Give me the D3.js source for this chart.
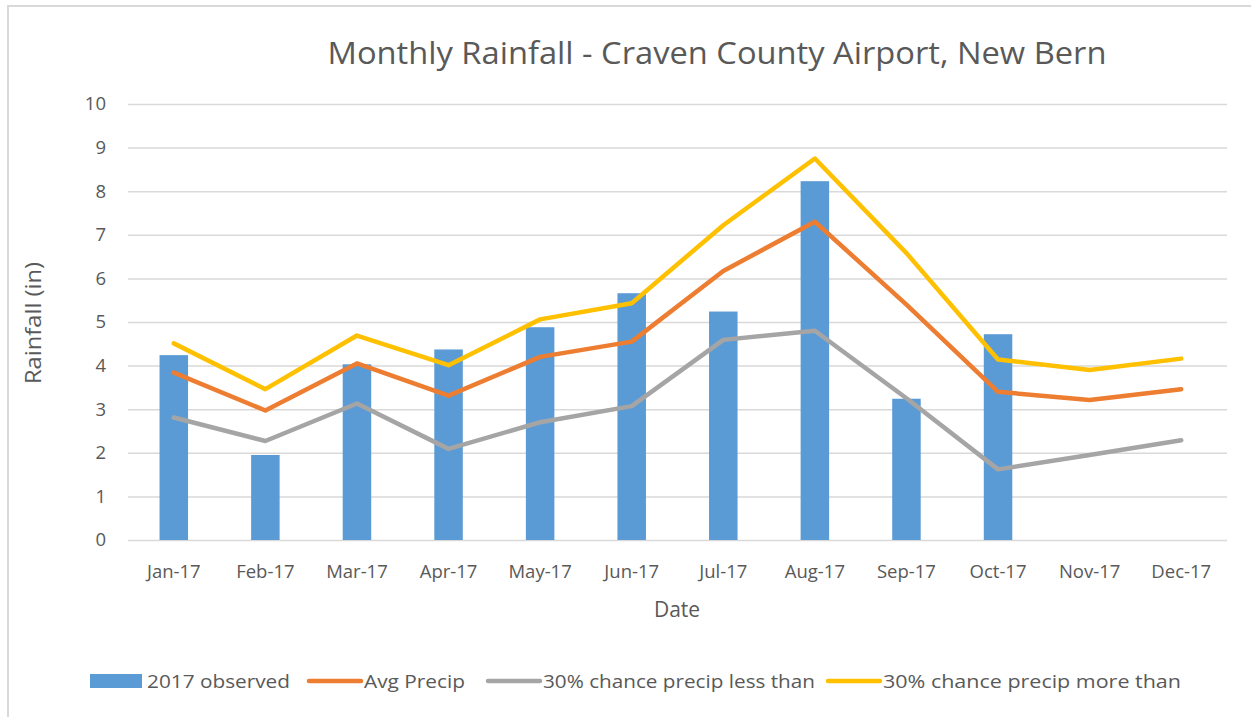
<!DOCTYPE html>
<html><head><meta charset="utf-8">
<script src="https://cdn.jsdelivr.net/npm/d3@7"></script>
<style>body{margin:0;background:#fff}svg{display:block}text{font-family:"Open Sans",sans-serif;fill:#595959}</style>
</head><body><svg id="c" width="1251" height="717"></svg>
<script>
const months = ["Jan-17","Feb-17","Mar-17","Apr-17","May-17","Jun-17","Jul-17","Aug-17","Sep-17","Oct-17","Nov-17","Dec-17"];
const observed = [4.24,1.95,4.03,4.37,4.88,5.66,5.24,8.23,3.24,4.72,null,null];
const avgPrecip = [3.84,2.97,4.05,3.31,4.20,4.55,6.17,7.30,5.40,3.40,3.21,3.46];
const lessThan = [2.81,2.27,3.13,2.09,2.70,3.07,4.59,4.80,3.25,1.62,1.95,2.29];
const moreThan = [4.51,3.46,4.69,4.01,5.06,5.43,7.22,8.75,6.58,4.14,3.90,4.16];
const yTicks = [0,1,2,3,4,5,6,7,8,9,10];

const svg = d3.select("#c");
svg.append("rect").attr("x",8).attr("y",6).attr("width",1260).attr("height",720)
  .attr("fill","none").attr("stroke","#d9d9d9").attr("stroke-width",2);

const L=128,R=1227,T=104,B=540;
const x = d3.scaleBand().domain(months).range([L,R]);
const y = d3.scaleLinear().domain([0,10]).range([B,T]);

const gy = svg.append("g").attr("transform",`translate(${L},0)`)
  .call(d3.axisLeft(y).tickValues(yTicks).tickSize(-(R-L)).tickPadding(22));
gy.select(".domain").remove();
gy.selectAll(".tick line").attr("stroke","#d9d9d9").attr("stroke-width",1.5);
gy.selectAll(".tick text").attr("font-size",18.5).style("fill","#595959");

const gx = svg.append("g").attr("transform",`translate(0,${B})`)
  .call(d3.axisBottom(x).tickSize(0).tickPadding(25));
gx.select(".domain").remove();
gx.selectAll(".tick text").attr("font-size",18.5).style("fill","#595959");

const bw = 28.5;
svg.append("g").selectAll("rect").data(months.map((m,i)=>({m,v:observed[i]})).filter(d=>d.v!=null))
  .join("rect").attr("x",d=>x(d.m)+x.bandwidth()/2-bw/2).attr("width",bw)
  .attr("y",d=>y(d.v)).attr("height",d=>B-y(d.v)).attr("fill","#5b9bd5");

const line = d3.line().x((d,i)=>x(months[i])+x.bandwidth()/2).y(d=>y(d));
[[avgPrecip,"#ed7d31"],[lessThan,"#a5a5a5"],[moreThan,"#ffc000"]].forEach(([s,c])=>{
  svg.append("path").datum(s).attr("d",line).attr("fill","none").attr("stroke",c)
    .attr("stroke-width",4.5).attr("stroke-linejoin","round").attr("stroke-linecap","round");
});

svg.append("text").attr("x",717).attr("y",64).attr("text-anchor","middle").attr("font-size",31)
  .attr("textLength",779).attr("lengthAdjust","spacingAndGlyphs")
  .text("Monthly Rainfall - Craven County Airport, New Bern");
svg.append("text").attr("x",677).attr("y",617).attr("text-anchor","middle").attr("font-size",21).text("Date");
svg.append("text").attr("transform","translate(41,323) rotate(-90)").attr("text-anchor","middle").attr("font-size",21)
  .attr("textLength",122).attr("lengthAdjust","spacingAndGlyphs").text("Rainfall (in)");

const legend = [
  {t:"2017 observed",c:"#5b9bd5",type:"bar",x:90,w:143},
  {t:"Avg Precip",c:"#ed7d31",type:"line",x:307,w:101},
  {t:"30% chance precip less than",c:"#a5a5a5",type:"line",x:486,w:272},
  {t:"30% chance precip more than",c:"#ffc000",type:"line",x:826,w:298}
];
const lg = svg.append("g");
legend.forEach(d=>{
  if(d.type==="bar") lg.append("rect").attr("x",d.x).attr("y",674).attr("width",52).attr("height",14).attr("fill",d.c);
  else lg.append("line").attr("x1",d.x+2).attr("x2",d.x+54).attr("y1",681).attr("y2",681).attr("stroke",d.c).attr("stroke-width",4.5).attr("stroke-linecap","round");
  lg.append("text").attr("x",d.x+57).attr("y",688).attr("font-size",19)
    .attr("textLength",d.w).attr("lengthAdjust","spacingAndGlyphs").text(d.t);
});
</script></body></html>
